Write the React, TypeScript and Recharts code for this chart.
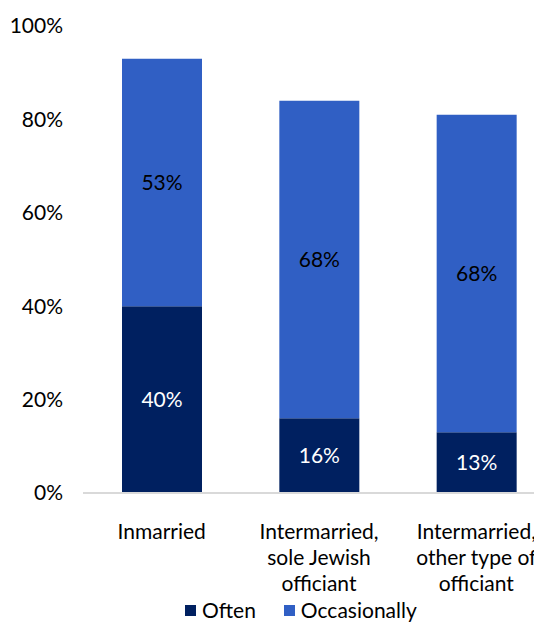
import { BarChart, Bar, XAxis, YAxis, Legend, LabelList } from "recharts";

const categories = [
  "Inmarried",
  "Intermarried,\nsole Jewish\nofficiant",
  "Intermarried,\nother type of\nofficiant",
];
const often = [40, 16, 13];
const occasionally = [53, 68, 68];
const yTicks = [0, 20, 40, 60, 80, 100];

const data = categories.map((name, i) => ({
  name,
  often: often[i],
  occasionally: occasionally[i],
}));

const FONT = "Lato, 'Noto Sans', sans-serif";

const CategoryTick = (props: any) => {
  const { x, y, payload } = props;
  const lines = String(payload.value).split("\n");
  return (
    <text x={x} y={y} textAnchor="middle" fill="#000" fontSize={21} fontFamily={FONT}>
      {lines.map((line, i) => (
        <tspan key={i} x={x} dy={i === 0 ? 38 : 26}>
          {line}
        </tspan>
      ))}
    </text>
  );
};

const LegendContent = (props: any) => {
  const items = [...(props.payload || [])].sort((a: any, b: any) =>
    a.dataKey === "often" ? -1 : b.dataKey === "often" ? 1 : 0
  );
  return (
    <div style={{ display: "flex", alignItems: "center", height: 24, fontSize: 21, fontFamily: FONT, color: "#000", lineHeight: "24px" }}>
      {items.map((item: any, i: number) => (
        <div key={i} style={{ display: "flex", alignItems: "center", marginRight: 28 }}>
          <span style={{ display: "inline-block", width: 11, height: 11, background: item.color, marginRight: 6 }} />
          <span>{item.value}</span>
        </div>
      ))}
    </div>
  );
};

const App = () => {
  return (
    <div style={{ margin: "-8px", width: 542, height: 632, overflow: "hidden", fontFamily: FONT }}>
      <BarChart
        width={560}
        height={632}
        data={data}
        margin={{ top: 26, right: 5, bottom: 0, left: 0 }}
        barSize={80}
      >
        <XAxis
          dataKey="name"
          tick={<CategoryTick />}
          tickLine={false}
          axisLine={{ stroke: "#D9D9D9", strokeWidth: 2 }}
          height={139}
          interval={0}
        />
        <YAxis
          width={83}
          domain={[0, 100]}
          ticks={yTicks}
          tickFormatter={(v) => `${v}%`}
          axisLine={false}
          tickLine={false}
          tickSize={0}
          tickMargin={20}
          tick={{ fill: "#000", fontSize: 21, fontFamily: FONT }}
        />
        <Legend
          layout="horizontal"
          verticalAlign="middle"
          align="center"
          content={<LegendContent />}
          wrapperStyle={{ top: 598, left: 185, width: 300, height: 24 }}
        />
        <Bar dataKey="often" name="Often" stackId="a" fill="#002060" isAnimationActive={false}>
          <LabelList
            dataKey="often"
            position="center"
            formatter={(v: any) => `${v}%`}
            fill="#fff"
            fontSize={21}
            fontFamily={FONT}
          />
        </Bar>
        <Bar dataKey="occasionally" name="Occasionally" stackId="a" fill="#305FC4" isAnimationActive={false}>
          <LabelList
            dataKey="occasionally"
            position="center"
            formatter={(v: any) => `${v}%`}
            fill="#000"
            fontSize={21}
            fontFamily={FONT}
          />
        </Bar>
      </BarChart>
    </div>
  );
};

export default App;
